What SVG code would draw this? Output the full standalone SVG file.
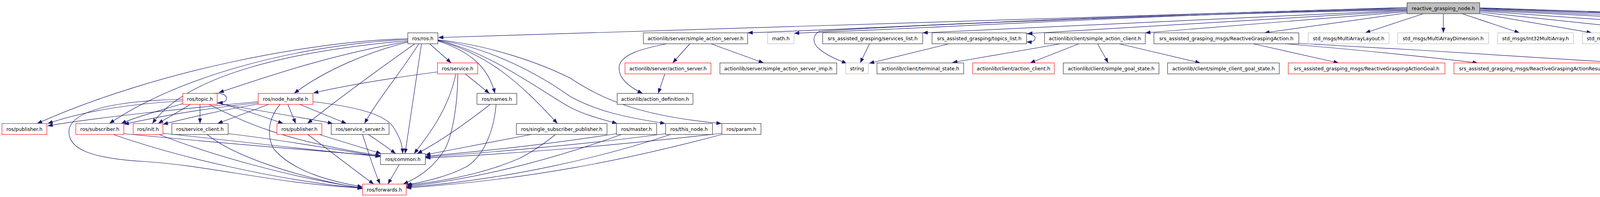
<svg xmlns="http://www.w3.org/2000/svg" width="5891" height="504" viewBox="0 0 5891 504">
<style>
rect{fill:#fff;stroke:#404040;stroke-width:1.3}
.r rect{stroke:#ff2020}
.g rect{stroke:#bfbfbf}
.m rect{fill:#bfbfbf}
text{font-family:"DejaVu Sans","Liberation Sans",sans-serif;font-size:12.6px;text-anchor:middle;fill:#000}
#edges path{fill:none;stroke:#191970;stroke-width:1.2;marker-end:url(#a)}
</style>
<defs>
<marker id="a" markerUnits="userSpaceOnUse" markerWidth="13" markerHeight="10" refX="13" refY="5" orient="auto"><path d="M0,0 L13,5 L0,10 z" fill="#191970"/></marker>
</defs>
<rect x="0" y="0" width="5891" height="504" style="fill:#fff;stroke:none"/>
<g id="edges">
<!-- main left -->
<path d="M3602,19 L1122,96"/>
<path d="M3602,21 C3000,32 2300,70 1914,84"/>
<path d="M3602,23 C3000,34 2400,72 2033,85"/>
<path d="M3602,25 C3000,36 2300,66 2098,80 C2080,90 2078,110 2098,126 C2115,140 2140,152 2168,162"/>
<path d="M3602,26 L2362,84"/>
<path d="M3602,28 L2630,86"/>
<path d="M3602,30 L2932,84"/>
<path d="M3602,33 L3237,84"/>
<path d="M3647,34 L3495,84"/>
<path d="M3695,34 L3695,84"/>
<!-- main right -->
<path d="M3740,34 L3890,84"/>
<path d="M3783,34 L4075,84"/>
<path d="M3788,31 L4290,84"/>
<path d="M3788,28 L4572,84"/>
<path d="M3788,26 L4942,84"/>
<path d="M3788,24 L5168,84"/>
<path d="M3788,22 L5422,84"/>
<path d="M3788,21 L5630,84"/>
<path d="M3788,20 L5762,84"/>
<!-- row1 to row2 -->
<path d="M1766,112 L1722,161"/>
<path d="M1707,112 C1640,125 1590,140 1585,170 C1582,200 1610,222 1645,239"/>
<path d="M1820,112 L1955,161"/>
<path d="M1702,189 L1685,239"/>
<path d="M2226,112 L2202,161"/>
<path d="M2430,112 L2225,162"/>
<path d="M2577,84 C2620,82 2650,88 2650,97 C2650,106 2640,108 2628,107"/>
<path d="M2715,112 L2438,160"/>
<path d="M2762,112 L2637,161"/>
<path d="M2810,112 L2837,161"/>
<path d="M2865,112 L3073,161"/>
<path d="M3208,112 L3427,161"/>
<path d="M3290,112 C3450,125 3650,145 3783,161"/>
<path d="M3325,111 C3600,125 3900,145 4157,161"/>
<path d="M5235,112 L5125,161"/>
<path d="M5273,112 L5280,161"/>
<path d="M5514,112 L5514,161"/>
<path d="M5684,112 L5684,161"/>
<!-- ros.h -->
<path d="M1044,99 C800,105 400,180 95,316"/>
<path d="M1044,101 C750,115 450,200 280,316"/>
<path d="M1044,104 C750,130 480,190 390,316"/>
<path d="M1044,106 C850,140 700,190 560,237"/>
<path d="M1044,108 C950,130 830,180 753,239"/>
<path d="M1062,112 C980,170 870,250 787,316"/>
<path d="M1072,112 C1030,180 970,250 933,316"/>
<path d="M1079,112 L1037,393"/>
<path d="M1100,112 L1155,161"/>
<path d="M1121,105 C1200,130 1250,170 1267,239"/>
<path d="M1121,103 C1250,140 1330,210 1427,316"/>
<path d="M1121,104 C1250,130 1380,230 1460,275 C1500,295 1540,305 1580,316"/>
<path d="M1121,103 C1250,120 1380,190 1460,247 C1530,285 1600,300 1703,316"/>
<path d="M1121,102 C1250,115 1380,160 1460,200 C1550,260 1650,298 1847,316"/>
<!-- service.h -->
<path d="M1120,184 C1000,200 880,220 802,238"/>
<path d="M1167,189 C1150,270 1110,330 1060,393"/>
<path d="M1172,189 C1172,260 1160,340 1140,380 C1110,430 1070,455 1032,471"/>
<path d="M1191,189 L1253,239"/>
<!-- topic.h -->
<path d="M545,239 C570,236 580,244 580,252 C580,260 572,263 557,263"/>
<path d="M468,258 C300,268 200,290 122,316"/>
<path d="M468,265 C420,280 360,295 310,316"/>
<path d="M487,267 C460,285 430,300 405,316"/>
<path d="M512,267 L512,316"/>
<path d="M556,262 C620,280 680,300 725,316"/>
<path d="M556,264 C700,290 800,305 852,316"/>
<path d="M535,267 C620,310 720,360 974,398"/>
<path d="M468,254 C300,258 190,280 177,330 C170,380 230,405 367,413 C550,425 700,470 928,481"/>
<!-- node_handle.h -->
<path d="M661,260 C450,280 250,300 122,322"/>
<path d="M661,263 C500,280 400,300 317,318"/>
<path d="M661,266 C550,285 470,305 417,318"/>
<path d="M688,267 L557,316"/>
<path d="M737,267 L757,316"/>
<path d="M767,267 L887,316"/>
<path d="M801,260 C900,272 990,290 1010,330 C1025,355 1030,370 1031,393"/>
<path d="M717,267 C690,300 680,340 700,380 C750,440 850,465 928,478"/>
<!-- row4 to common/forwards -->
<path d="M317,342 C500,360 800,385 974,399"/>
<path d="M290,344 C450,400 700,460 928,482"/>
<path d="M417,341 C600,360 800,385 974,400"/>
<path d="M407,344 C550,400 750,455 928,481"/>
<path d="M584,342 C700,355 850,380 974,401"/>
<path d="M530,344 C600,400 750,450 928,483"/>
<path d="M817,344 L976,393"/>
<path d="M788,344 C850,390 900,430 957,471"/>
<path d="M943,344 C975,365 995,380 1013,393"/>
<path d="M928,344 C940,380 955,430 973,471"/>
<path d="M1255,267 C1200,310 1130,360 1068,393"/>
<path d="M1270,267 C1265,330 1240,400 1193,427 C1150,450 1090,465 1040,473"/>
<path d="M1360,344 L1089,396"/>
<path d="M1422,344 C1390,370 1360,390 1330,405 C1250,440 1150,462 1042,474"/>
<path d="M1578,342 C1400,370 1250,385 1089,400"/>
<path d="M1591,344 C1450,395 1250,455 1040,477"/>
<path d="M1704,342 C1500,370 1250,390 1089,402"/>
<path d="M1717,344 C1550,400 1300,460 1040,479"/>
<path d="M1848,341 C1600,370 1300,395 1089,404"/>
<path d="M1848,344 C1600,410 1350,460 1040,481"/>
<path d="M1022,421 L993,471"/>
</g>
<g id="n0" class="m"><rect x="3602" y="7" width="186" height="28"/><text x="3695" y="26">reactive_grasping_node.h</text></g>
<g id="n1"><rect x="1044" y="84" width="77" height="28"/><text x="1082.5" y="103">ros/ros.h</text></g>
<g id="n2"><rect x="1647" y="84" width="267" height="28"/><text x="1780.5" y="103">actionlib/server/simple_action_server.h</text></g>
<g id="n3" class="g"><rect x="1965" y="84" width="68" height="28"/><text x="1999" y="103">math.h</text></g>
<g id="n4"><rect x="2106" y="84" width="256" height="28"/><text x="2234" y="103">srs_assisted_grasping/services_list.h</text></g>
<g id="n5"><rect x="2386" y="84" width="242" height="28"/><text x="2507" y="103">srs_assisted_grasping/topics_list.h</text></g>
<g id="n6"><rect x="2674" y="84" width="258" height="28"/><text x="2803" y="103">actionlib/client/simple_action_client.h</text></g>
<g id="n7"><rect x="2954" y="84" width="371" height="28"/><text x="3139.5" y="103">srs_assisted_grasping_msgs/ReactiveGraspingAction.h</text></g>
<g id="n8" class="g"><rect x="3349" y="84" width="207" height="28"/><text x="3452.5" y="103">std_msgs/MultiArrayLayout.h</text></g>
<g id="n9" class="g"><rect x="3578" y="84" width="233" height="28"/><text x="3694.5" y="103">std_msgs/MultiArrayDimension.h</text></g>
<g id="n10" class="g"><rect x="3834" y="84" width="194" height="28"/><text x="3931" y="103">std_msgs/Int32MultiArray.h</text></g>
<g id="n11" class="g"><rect x="4051" y="84" width="208" height="28"/><text x="4155" y="103">std_msgs/Float32MultiArray.h</text></g>
<g id="n12"><rect x="4282" y="84" width="260" height="28"/><text x="4412" y="103">trajectory_msgs/JointTrajectoryPoint.h</text></g>
<g id="n13"><rect x="4565" y="84" width="354" height="28"/><text x="4742" y="103">pr2_controllers_msgs/JointTrajectoryControllerState.h</text></g>
<g id="n14"><rect x="4942" y="84" width="203" height="28"/><text x="5043.5" y="103">cob_srvs/SetOperationMode.h</text></g>
<g id="n15"><rect x="5167" y="84" width="232" height="28"/><text x="5283" y="103">brics_actuator/JointVelocities.h</text></g>
<g id="n16"><rect x="5422" y="84" width="186" height="28"/><text x="5515" y="103">schunk_sdh/TactileSensor.h</text></g>
<g id="n17"><rect x="5629" y="84" width="111" height="28"/><text x="5684.5" y="103">XmlRpcValue.h</text></g>
<g id="n18"><rect x="5761" y="84" width="98" height="28"/><text x="5810" y="103">urdf/model.h</text></g>
<g id="n19" class="r"><rect x="1120" y="161" width="103" height="28"/><text x="1171.5" y="180">ros/service.h</text></g>
<g id="n20" class="r"><rect x="1600" y="161" width="220" height="28"/><text x="1710" y="180">actionlib/server/action_server.h</text></g>
<g id="n21"><rect x="1843" y="161" width="299" height="28"/><text x="1992.5" y="180">actionlib/server/simple_action_server_imp.h</text></g>
<g id="n22" class="g"><rect x="2165" y="161" width="58" height="28"/><text x="2194" y="180">string</text></g>
<g id="n23"><rect x="2245" y="161" width="222" height="28"/><text x="2356" y="180">actionlib/client/terminal_state.h</text></g>
<g id="n24" class="r"><rect x="2490" y="161" width="209" height="28"/><text x="2594.5" y="180">actionlib/client/action_client.h</text></g>
<g id="n25"><rect x="2722" y="161" width="245" height="28"/><text x="2844.5" y="180">actionlib/client/simple_goal_state.h</text></g>
<g id="n26"><rect x="2989" y="161" width="286" height="28"/><text x="3132" y="180">actionlib/client/simple_client_goal_state.h</text></g>
<g id="n27" class="r"><rect x="3298" y="161" width="401" height="28"/><text x="3498.5" y="180">srs_assisted_grasping_msgs/ReactiveGraspingActionGoal.h</text></g>
<g id="n28" class="r"><rect x="3722" y="161" width="409" height="28"/><text x="3926.5" y="180">srs_assisted_grasping_msgs/ReactiveGraspingActionResult.h</text></g>
<g id="n29" class="r"><rect x="4154" y="161" width="431" height="28"/><text x="4369.5" y="180">srs_assisted_grasping_msgs/ReactiveGraspingActionFeedback.h</text></g>
<g id="n30"><rect x="4999" y="161" width="181" height="28"/><text x="5089.5" y="180">brics_actuator/JointValue.h</text></g>
<g id="n31"><rect x="5201" y="161" width="190" height="28"/><text x="5296" y="180">brics_actuator/Poison.h</text></g>
<g id="n32"><rect x="5424" y="161" width="182" height="28"/><text x="5515" y="180">schunk_sdh/TactileMatrix.h</text></g>
<g id="n33"><rect x="5633" y="161" width="103" height="28"/><text x="5684.5" y="180">XmlRpcDecl.h</text></g>
<g id="n34" class="r"><rect x="468" y="239" width="88" height="28"/><text x="512" y="258">ros/topic.h</text></g>
<g id="n35" class="r"><rect x="661" y="239" width="140" height="28"/><text x="731" y="258">ros/node_handle.h</text></g>
<g id="n36"><rect x="1221" y="239" width="102" height="28"/><text x="1272" y="258">ros/names.h</text></g>
<g id="n37"><rect x="1580" y="239" width="194" height="28"/><text x="1677" y="258">actionlib/action_definition.h</text></g>
<g id="n38" class="r"><rect x="5" y="316" width="115" height="28"/><text x="62.5" y="335">ros/publisher.h</text></g>
<g id="n39" class="r"><rect x="194" y="316" width="123" height="28"/><text x="255.5" y="335">ros/subscriber.h</text></g>
<g id="n40" class="r"><rect x="341" y="316" width="76" height="28"/><text x="379" y="335">ros/init.h</text></g>
<g id="n41"><rect x="440" y="316" width="144" height="28"/><text x="512" y="335">ros/service_client.h</text></g>
<g id="n42" class="r"><rect x="709" y="316" width="115" height="28"/><text x="766.5" y="335">ros/publisher.h</text></g>
<g id="n43"><rect x="848" y="316" width="148" height="28"/><text x="922" y="335">ros/service_server.h</text></g>
<g id="n44"><rect x="1322" y="316" width="232" height="28"/><text x="1438" y="335">ros/single_subscriber_publisher.h</text></g>
<g id="n45"><rect x="1578" y="316" width="103" height="28"/><text x="1629.5" y="335">ros/master.h</text></g>
<g id="n46"><rect x="1704" y="316" width="120" height="28"/><text x="1764" y="335">ros/this_node.h</text></g>
<g id="n47"><rect x="1848" y="316" width="100" height="28"/><text x="1898" y="335">ros/param.h</text></g>
<g id="n48"><rect x="974" y="393" width="115" height="28"/><text x="1031.5" y="412">ros/common.h</text></g>
<g id="n49" class="r"><rect x="928" y="471" width="112" height="28"/><text x="984" y="490">ros/forwards.h</text></g>
</svg>
